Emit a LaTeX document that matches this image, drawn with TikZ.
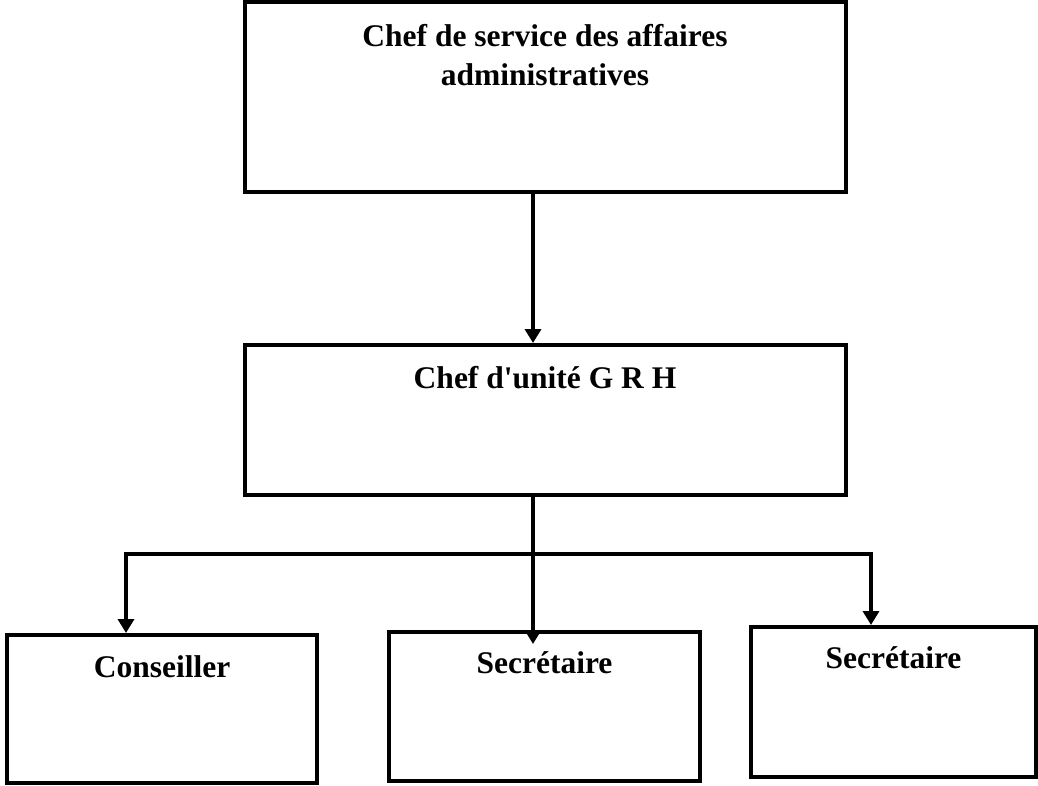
\documentclass[tikz,border=0pt]{standalone}
\usepackage{fontspec}
\setmainfont{Liberation Serif}[Ligatures=TeXOff]
\usetikzlibrary{arrows.meta,calc}
\begin{document}
\begin{tikzpicture}[x=1pt,y=-1pt,
  box/.style={draw=black,line width=4pt,minimum width=#1,inner sep=0pt},
  lbl/.style={anchor=base,inner sep=0pt,font=\fontsize{31.5}{39}\selectfont\bfseries},
  link/.style={line width=4pt,-{Triangle[width=16pt,length=14pt]}},
  wire/.style={line width=4pt}]
\useasboundingbox (0,0) rectangle (1038,786);
% boxes
\node[box=601pt,minimum height=190pt] (chef) at (545,97) {};
\node[box=601pt,minimum height=150pt] (unit) at (545,420) {};
\node[box=310pt,minimum height=148pt] (cons) at (162,709) {};
\node[box=311pt,minimum height=149pt] (secA) at (544.5,706.5) {};
\node[box=285pt,minimum height=150pt] (secB) at (893.5,702) {};
% labels
\node[lbl] (chefA) at (545,47) {Chef de service des affaires};
\node[lbl] (chefB) at (545,86) {administratives};
\node[lbl] (unitT) at (545,388) {Chef d'unité G R H};
\node[lbl] (consT) at (162,677) {Conseiller};
\node[lbl] (secAT) at (544.5,673) {Secrétaire};
\node[lbl] (secBT) at (893.5,668) {Secrétaire};
% connectors
\coordinate (spine) at (533,554);
\coordinate (hl) at (126,554);
\coordinate (hr) at (871,554);
\draw[link] (chef.south -| spine) -- (unit.north -| spine);
\draw[wire] (unit.south -| spine) -- (spine);
\draw[link] (spine) -- ($(secA.north -| spine)+(0,14)$);
\draw[link] (spine) -| (cons.north -| hl);
\draw[link] (spine) -| (secB.north -| hr);
\end{tikzpicture}
\end{document}
